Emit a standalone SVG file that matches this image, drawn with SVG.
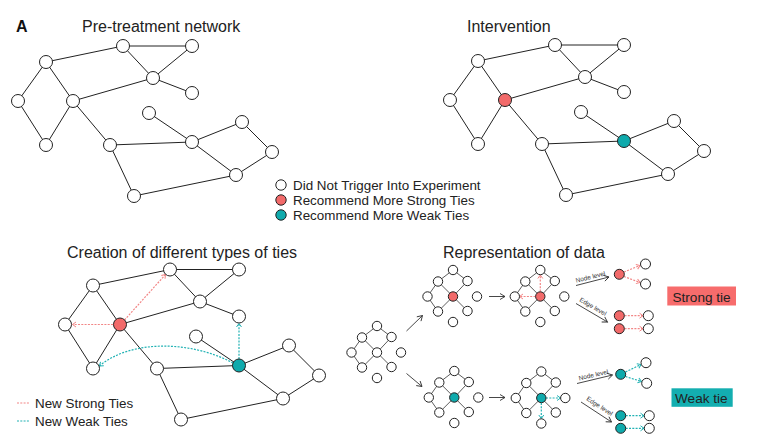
<svg xmlns="http://www.w3.org/2000/svg" width="772" height="446" viewBox="0 0 772 446">
<defs>
<style>
text{font-family:"Liberation Sans",Arial,sans-serif;fill:#222}
.title{font-size:16px}
.lg{font-size:13.4px}
.small{font-size:6.4px;fill:#333}
.e{fill:none;stroke:#222;stroke-width:1}
.me{fill:none;stroke:#333;stroke-width:0.8}
.n{fill:#fff;stroke:#222;stroke-width:1}
.red{fill:#F26A6A;stroke:#222;stroke-width:1}
.teal{fill:#0FAAAC;stroke:#222;stroke-width:1}
.rd{fill:none;stroke:#F28686;stroke-width:1.2;stroke-dasharray:2 1.3}
.td{fill:none;stroke:#22B2B4;stroke-width:1.2;stroke-dasharray:2 1.3}
.ar{fill:none;stroke:#333;stroke-width:0.9}
</style>
<marker id="mk" markerUnits="userSpaceOnUse" markerWidth="8" markerHeight="8" refX="6" refY="4" orient="auto"><path d="M1,1 L6,4 L1,7" fill="none" stroke="#333" stroke-width="0.9"/></marker>
<marker id="mr" markerUnits="userSpaceOnUse" markerWidth="8" markerHeight="8" refX="5" refY="4" orient="auto"><path d="M1.5,1.5 L5,4 L1.5,6.5" fill="none" stroke="#F28686" stroke-width="1"/></marker>
<marker id="mt" markerUnits="userSpaceOnUse" markerWidth="8" markerHeight="8" refX="5" refY="4" orient="auto"><path d="M1.5,1.5 L5,4 L1.5,6.5" fill="none" stroke="#22B2B4" stroke-width="1"/></marker>
</defs>
<rect width="772" height="446" fill="#fff"/>

<text x="16" y="31.5" style="font-size:16px;font-weight:bold;fill:#111">A</text>
<text class="title" x="82" y="31.5">Pre-treatment network</text>
<text class="title" x="467" y="31.5">Intervention</text>
<text class="title" x="67" y="257.5">Creation of different types of ties</text>
<text class="title" x="443" y="257.5">Representation of data</text>

<!-- Network 1: pre-treatment -->
<g id="connectors">
<g transform="translate(0,0)">
<path class="e" d="M123,46 L192,46 M123,46 L46,62 M123,46 L153,78 M192,46 L153,78 M153,78 L192,93 M153,78 L73,101 M46,62 L18,101 M46,62 L73,101 M18,101 L46,145 M73,101 L46,145 M73,101 L110,145 M110,145 L192,142 M110,145 L134,196 M134,196 L236,175 M192,142 L149,113 M192,142 L242,122 M192,142 L236,175 M242,122 L272,152 M272,152 L236,175"/>
</g>
<g transform="translate(432,-1)">
<path class="e" d="M123,46 L192,46 M123,46 L46,62 M123,46 L153,78 M192,46 L153,78 M153,78 L192,93 M153,78 L73,101 M46,62 L18,101 M46,62 L73,101 M18,101 L46,145 M73,101 L46,145 M73,101 L110,145 M110,145 L192,142 M110,145 L134,196 M134,196 L236,175 M192,142 L149,113 M192,142 L242,122 M192,142 L236,175 M242,122 L272,152 M272,152 L236,175"/>
</g>
<g transform="translate(47,223.5)">
<path class="e" d="M123,46 L192,46 M123,46 L46,62 M123,46 L153,78 M192,46 L153,78 M153,78 L192,93 M153,78 L73,101 M46,62 L18,101 M46,62 L73,101 M18,101 L46,145 M73,101 L46,145 M73,101 L110,145 M110,145 L192,142 M110,145 L134,196 M134,196 L236,175 M192,142 L149,113 M192,142 L242,122 M192,142 L236,175 M242,122 L272,152 M272,152 L236,175"/>
</g>
<!-- new ties -->
<path class="rd" d="M113,324.5 L72.5,324.5" marker-end="url(#mr)"/>
<path class="rd" d="M124.5,320 L165.5,274.5" marker-end="url(#mr)"/>
<path class="td" d="M239,359 L239,323.5" marker-end="url(#mt)"/>
<path class="td" d="M233,363 C190,340 130,340 99.5,366" marker-end="url(#mt)"/>
<!-- mini networks edges -->
<g transform="translate(377,352.5)"><path class="me" d="M0,-26.5 L-15,-15 M0,-26.5 L14.5,-15.5 M-15,-15 L-25.5,0 M-15,-15 L0,0 M14.5,-15.5 L0,0 M-25.5,0 L-15,15 M0,0 L-15,15 M0,0 L14.5,14.5"/></g>
<g transform="translate(453,296.5)"><path class="me" d="M0,-26.5 L-15,-15 M0,-26.5 L14.5,-15.5 M-15,-15 L-25.5,0 M-15,-15 L0,0 M14.5,-15.5 L0,0 M-25.5,0 L-15,15 M0,0 L-15,15 M0,0 L14.5,14.5"/></g>
<g transform="translate(540.3,296.5)"><path class="me" d="M0,-26.5 L-15,-15 M0,-26.5 L14.5,-15.5 M-15,-15 L-25.5,0 M-15,-15 L0,0 M14.5,-15.5 L0,0 M-25.5,0 L-15,15 M0,0 L-15,15 M0,0 L14.5,14.5"/></g>
<g transform="translate(454.3,397.5)"><path class="me" d="M0,-26.5 L-15,-15 M0,-26.5 L14.5,-15.5 M-15,-15 L-25.5,0 M-15,-15 L0,0 M14.5,-15.5 L0,0 M-25.5,0 L-15,15 M0,0 L-15,15 M0,0 L14.5,14.5"/></g>
<g transform="translate(541.3,398)"><path class="me" d="M0,-26.5 L-15,-15 M0,-26.5 L14.5,-15.5 M-15,-15 L-25.5,0 M-15,-15 L0,0 M14.5,-15.5 L0,0 M-25.5,0 L-15,15 M0,0 L-15,15 M0,0 L14.5,14.5"/></g>
<!-- flow arrows -->
<path class="ar" d="M406.5,331 L422.5,315.5" marker-end="url(#mk)"/>
<path class="ar" d="M406.5,373.5 L422,386.5" marker-end="url(#mk)"/>
<path class="ar" d="M489,296.5 L505,296.5" marker-end="url(#mk)"/>
<path class="ar" d="M489,397.5 L505,397.5" marker-end="url(#mk)"/>
<path class="rd" d="M540.3,291.5 L540.3,275" marker-end="url(#mr)"/>
<path class="rd" d="M535.5,296.5 L519.5,296.5" marker-end="url(#mr)"/>
<path class="td" d="M546,398 L560.5,398" marker-end="url(#mt)"/>
<path class="td" d="M541.3,403 L541.3,418.5" marker-end="url(#mt)"/>
<!-- level arrows -->
<path class="ar" d="M576,285.5 L609,277" marker-end="url(#mk)"/>
<path class="ar" d="M576,303.5 L607.5,322" marker-end="url(#mk)"/>
<path class="ar" d="M577,383.5 L612.5,375" marker-end="url(#mk)"/>
<path class="ar" d="M581,402 L611.5,422" marker-end="url(#mk)"/>
<path class="rd" d="M624,272 L640,265.5" marker-end="url(#mr)"/>
<path class="rd" d="M624,276.5 L640,282.5" marker-end="url(#mr)"/>
<path class="rd" d="M624.5,315.7 L643,315.7" marker-end="url(#mr)"/>
<path class="rd" d="M624.5,328.7 L643,328.7" marker-end="url(#mr)"/>
<path class="td" d="M625.5,372 L641,364.5" marker-end="url(#mt)"/>
<path class="td" d="M625.5,376.5 L641.5,381.5" marker-end="url(#mt)"/>
<path class="td" d="M625.7,415.7 L644,415.7" marker-end="url(#mt)"/>
<path class="td" d="M625.7,428.3 L644,428.3" marker-end="url(#mt)"/>
</g>

<!-- Nodes network 1 -->
<g id="net1">
<g id="p1"><circle class="n" cx="123" cy="46" r="6.5"/></g>
<g id="p2"><circle class="n" cx="192" cy="46" r="6.5"/></g>
<g id="p3"><circle class="n" cx="46" cy="62" r="6.5"/></g>
<g id="p4"><circle class="n" cx="153" cy="78" r="6.5"/></g>
<g id="p5"><circle class="n" cx="192" cy="93" r="6.5"/></g>
<g id="p6"><circle class="n" cx="18" cy="101" r="6.5"/></g>
<g id="p7"><circle class="n" cx="73" cy="101" r="6.5"/></g>
<g id="p8"><circle class="n" cx="149" cy="113" r="6.5"/></g>
<g id="p9"><circle class="n" cx="242" cy="122" r="6.5"/></g>
<g id="p10"><circle class="n" cx="46" cy="145" r="6.5"/></g>
<g id="p11"><circle class="n" cx="110" cy="145" r="6.5"/></g>
<g id="p12"><circle class="n" cx="192" cy="142" r="6.5"/></g>
<g id="p13"><circle class="n" cx="272" cy="152" r="6.5"/></g>
<g id="p14"><circle class="n" cx="236" cy="175" r="6.5"/></g>
<g id="p15"><circle class="n" cx="134" cy="196" r="6.5"/></g>
</g>

<g id="net2" transform="translate(432,-1)">
<g id="i1"><circle class="n" cx="123" cy="46" r="6.5"/></g>
<g id="i2"><circle class="n" cx="192" cy="46" r="6.5"/></g>
<g id="i3"><circle class="n" cx="46" cy="62" r="6.5"/></g>
<g id="i4"><circle class="n" cx="153" cy="78" r="6.5"/></g>
<g id="i5"><circle class="n" cx="192" cy="93" r="6.5"/></g>
<g id="i6"><circle class="n" cx="18" cy="101" r="6.5"/></g>
<g id="i7"><circle class="red" cx="73" cy="101" r="6.5"/></g>
<g id="i8"><circle class="n" cx="149" cy="113" r="6.5"/></g>
<g id="i9"><circle class="n" cx="242" cy="122" r="6.5"/></g>
<g id="i10"><circle class="n" cx="46" cy="145" r="6.5"/></g>
<g id="i11"><circle class="n" cx="110" cy="145" r="6.5"/></g>
<g id="i12"><circle class="teal" cx="192" cy="142" r="6.5"/></g>
<g id="i13"><circle class="n" cx="272" cy="152" r="6.5"/></g>
<g id="i14"><circle class="n" cx="236" cy="175" r="6.5"/></g>
<g id="i15"><circle class="n" cx="134" cy="196" r="6.5"/></g>
</g>

<g id="net3" transform="translate(47,223.5)">
<g id="c1"><circle class="n" cx="123" cy="46" r="6.5"/></g>
<g id="c2"><circle class="n" cx="192" cy="46" r="6.5"/></g>
<g id="c3"><circle class="n" cx="46" cy="62" r="6.5"/></g>
<g id="c4"><circle class="n" cx="153" cy="78" r="6.5"/></g>
<g id="c5"><circle class="n" cx="192" cy="93" r="6.5"/></g>
<g id="c6"><circle class="n" cx="18" cy="101" r="6.5"/></g>
<g id="c7"><circle class="red" cx="73" cy="101" r="6.5"/></g>
<g id="c8"><circle class="n" cx="149" cy="113" r="6.5"/></g>
<g id="c9"><circle class="n" cx="242" cy="122" r="6.5"/></g>
<g id="c10"><circle class="n" cx="46" cy="145" r="6.5"/></g>
<g id="c11"><circle class="n" cx="110" cy="145" r="6.5"/></g>
<g id="c12"><circle class="teal" cx="192" cy="142" r="6.5"/></g>
<g id="c13"><circle class="n" cx="272" cy="152" r="6.5"/></g>
<g id="c14"><circle class="n" cx="236" cy="175" r="6.5"/></g>
<g id="c15"><circle class="n" cx="134" cy="196" r="6.5"/></g>
</g>

<!-- legend -->
<g id="legend">
<circle class="n" cx="281" cy="185" r="5.2"/>
<circle class="red" cx="281" cy="200" r="5.2"/>
<circle class="teal" cx="281" cy="215" r="5.2"/>
<text class="lg" x="293" y="189.5">Did Not Trigger Into Experiment</text>
<text class="lg" x="293" y="204.5">Recommend More Strong Ties</text>
<text class="lg" x="293" y="219.5">Recommend More Weak Ties</text>
</g>
<g id="legend2">
<path class="rd" d="M17,403 L30,403"/>
<path class="td" d="M17,421 L30,421"/>
<text class="lg" x="35" y="407.5">New Strong Ties</text>
<text class="lg" x="35" y="425.5">New Weak Ties</text>
</g>

<!-- mini networks nodes -->
<g id="mini0" transform="translate(377,352.5)">
<g id="m0a"><circle class="n" cx="0" cy="-26.5" r="4.7"/></g>
<g id="m0b"><circle class="n" cx="-15" cy="-15" r="4.7"/></g>
<g id="m0c"><circle class="n" cx="14.5" cy="-15.5" r="4.7"/></g>
<g id="m0d"><circle class="n" cx="-25.5" cy="0" r="4.7"/></g>
<g id="m0e"><circle class="n" cx="0" cy="0" r="4.7"/></g>
<g id="m0f"><circle class="n" cx="24" cy="0" r="4.7"/></g>
<g id="m0g"><circle class="n" cx="-15" cy="15" r="4.7"/></g>
<g id="m0h"><circle class="n" cx="14.5" cy="14.5" r="4.7"/></g>
<g id="m0i"><circle class="n" cx="0" cy="25.5" r="4.7"/></g>
</g>
<g id="mini1" transform="translate(453,296.5)">
<g id="m1a"><circle class="n" cx="0" cy="-26.5" r="4.7"/></g>
<g id="m1b"><circle class="n" cx="-15" cy="-15" r="4.7"/></g>
<g id="m1c"><circle class="n" cx="14.5" cy="-15.5" r="4.7"/></g>
<g id="m1d"><circle class="n" cx="-25.5" cy="0" r="4.7"/></g>
<g id="m1e"><circle class="red" cx="0" cy="0" r="4.7"/></g>
<g id="m1f"><circle class="n" cx="24" cy="0" r="4.7"/></g>
<g id="m1g"><circle class="n" cx="-15" cy="15" r="4.7"/></g>
<g id="m1h"><circle class="n" cx="14.5" cy="14.5" r="4.7"/></g>
<g id="m1i"><circle class="n" cx="0" cy="25.5" r="4.7"/></g>
</g>
<g id="mini2" transform="translate(540.3,296.5)">
<g id="m2a"><circle class="n" cx="0" cy="-26.5" r="4.7"/></g>
<g id="m2b"><circle class="n" cx="-15" cy="-15" r="4.7"/></g>
<g id="m2c"><circle class="n" cx="14.5" cy="-15.5" r="4.7"/></g>
<g id="m2d"><circle class="n" cx="-25.5" cy="0" r="4.7"/></g>
<g id="m2e"><circle class="red" cx="0" cy="0" r="4.7"/></g>
<g id="m2f"><circle class="n" cx="24" cy="0" r="4.7"/></g>
<g id="m2g"><circle class="n" cx="-15" cy="15" r="4.7"/></g>
<g id="m2h"><circle class="n" cx="14.5" cy="14.5" r="4.7"/></g>
<g id="m2i"><circle class="n" cx="0" cy="25.5" r="4.7"/></g>
</g>
<g id="mini3" transform="translate(454.3,397.5)">
<g id="m3a"><circle class="n" cx="0" cy="-26.5" r="4.7"/></g>
<g id="m3b"><circle class="n" cx="-15" cy="-15" r="4.7"/></g>
<g id="m3c"><circle class="n" cx="14.5" cy="-15.5" r="4.7"/></g>
<g id="m3d"><circle class="n" cx="-25.5" cy="0" r="4.7"/></g>
<g id="m3e"><circle class="teal" cx="0" cy="0" r="4.7"/></g>
<g id="m3f"><circle class="n" cx="24" cy="0" r="4.7"/></g>
<g id="m3g"><circle class="n" cx="-15" cy="15" r="4.7"/></g>
<g id="m3h"><circle class="n" cx="14.5" cy="14.5" r="4.7"/></g>
<g id="m3i"><circle class="n" cx="0" cy="25.5" r="4.7"/></g>
</g>
<g id="mini4" transform="translate(541.3,398)">
<g id="m4a"><circle class="n" cx="0" cy="-26.5" r="4.7"/></g>
<g id="m4b"><circle class="n" cx="-15" cy="-15" r="4.7"/></g>
<g id="m4c"><circle class="n" cx="14.5" cy="-15.5" r="4.7"/></g>
<g id="m4d"><circle class="n" cx="-25.5" cy="0" r="4.7"/></g>
<g id="m4e"><circle class="teal" cx="0" cy="0" r="4.7"/></g>
<g id="m4f"><circle class="n" cx="24" cy="0" r="4.7"/></g>
<g id="m4g"><circle class="n" cx="-15" cy="15" r="4.7"/></g>
<g id="m4h"><circle class="n" cx="14.5" cy="14.5" r="4.7"/></g>
<g id="m4i"><circle class="n" cx="0" cy="25.5" r="4.7"/></g>
</g>

<!-- level representation nodes -->
<g id="strong-node-level">
<circle class="red" cx="619.3" cy="274.3" r="5"/>
<circle class="n" cx="645.5" cy="264" r="5"/>
<circle class="n" cx="645.5" cy="284" r="5"/>
</g>
<g id="strong-edge-level">
<circle class="red" cx="619.3" cy="315.7" r="5"/>
<circle class="red" cx="619.3" cy="328.7" r="5"/>
<circle class="n" cx="648.3" cy="315.7" r="5"/>
<circle class="n" cx="648.3" cy="328.7" r="5"/>
</g>
<g id="weak-node-level">
<circle class="teal" cx="620.7" cy="374.3" r="5"/>
<circle class="n" cx="646" cy="362.7" r="5"/>
<circle class="n" cx="646.7" cy="383.3" r="5"/>
</g>
<g id="weak-edge-level">
<circle class="teal" cx="620.7" cy="415.7" r="5"/>
<circle class="teal" cx="620.7" cy="428.3" r="5"/>
<circle class="n" cx="649.3" cy="415.7" r="5"/>
<circle class="n" cx="649.3" cy="428.3" r="5"/>
</g>
<text class="small" text-anchor="middle" transform="translate(591,279) rotate(-14)">Node level</text>
<text class="small" text-anchor="middle" transform="translate(592,308.5) rotate(30)">Edge level</text>
<text class="small" text-anchor="middle" transform="translate(594,377) rotate(-13)">Node level</text>
<text class="small" text-anchor="middle" transform="translate(598.5,408) rotate(33)">Edge level</text>

<g id="strong-tie">
<rect x="667.3" y="286.5" width="68.7" height="19" fill="#F76C6C"/>
<text x="672.5" y="301.5" style="font-size:13.6px">Strong tie</text>
</g>
<g id="weak-tie">
<rect x="671.5" y="388.3" width="61.2" height="18.5" fill="#13AEB0"/>
<text x="675" y="403" style="font-size:13.6px">Weak tie</text>
</g>
</svg>
